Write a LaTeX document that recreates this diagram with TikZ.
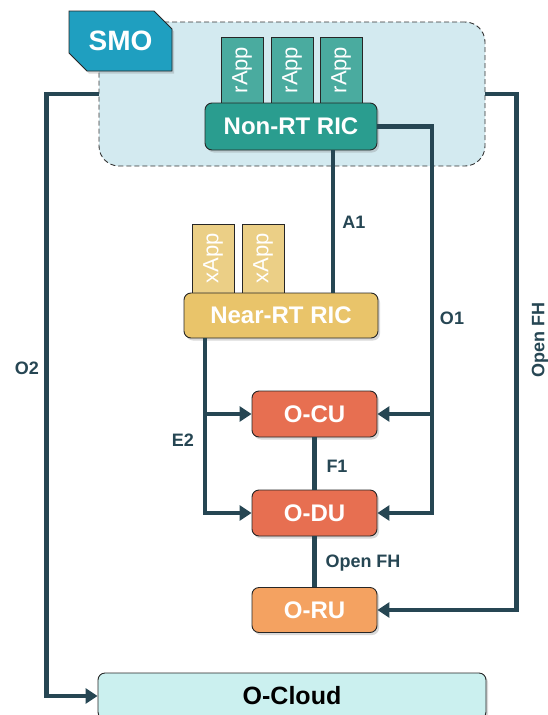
\documentclass[tikz,border=0pt]{standalone}
\usepackage{fontspec}
\setmainfont{Liberation Sans}
\usetikzlibrary{arrows.meta,shadows,shapes.misc}
\definecolor{linkcol}{HTML}{264653}
\definecolor{smofill}{HTML}{D3EAF0}
\definecolor{smotag}{HTML}{1F9FC0}
\definecolor{rappcol}{HTML}{4AAB9F}
\definecolor{nonrtcol}{HTML}{2A9D8F}
\definecolor{xappcol}{HTML}{EBCF86}
\definecolor{nearrtcol}{HTML}{E9C46A}
\definecolor{ducol}{HTML}{E76F51}
\definecolor{rucol}{HTML}{F4A261}
\definecolor{cloudcol}{HTML}{CBF0EF}

\begin{document}
\begin{tikzpicture}[x=1pt,y=-1pt,
    box/.style={draw=black!85,line width=0.9pt,rounded corners=7pt,inner sep=0pt,text=white,
        font=\bfseries\fontsize{24}{26}\selectfont,
        drop shadow={opacity=0.3,shadow xshift=2pt,shadow yshift=-2.5pt}},
    appbox/.style={draw=black!85,line width=0.8pt,inner sep=0pt,rotate=90,text=white,
        font=\fontsize{22}{24}\selectfont,minimum width=#1,minimum height=42pt},
    link/.style={draw=linkcol,line width=4.5pt},
    tip/.style={-{Triangle[length=12pt,width=15pt]}},
    lbl/.style={text=linkcol,font=\bfseries\fontsize{18}{20}\selectfont}]
    \useasboundingbox (0,0) rectangle (548,715);
    \node[draw=black!80,dash pattern=on 5pt off 3pt,line width=0.9pt,fill=smofill,rounded corners=20pt,
        minimum width=386pt,minimum height=144pt] (smoarea) at (292,94) {};
    \node[draw=black!85,line width=0.9pt,fill=smotag,chamfered rectangle,
        chamfered rectangle corners={north east,south west},chamfered rectangle xsep=9pt,
        chamfered rectangle ysep=9pt,inner sep=0pt,minimum width=103pt,minimum height=60pt,
        text=white,font=\bfseries\fontsize{28}{30}\selectfont,
        drop shadow={opacity=0.3,shadow xshift=2pt,shadow yshift=-2.5pt}] (smo) at (120.5,41) {SMO};
    \foreach \i/\x in {1/242,2/292,3/341}
        \node[appbox=66pt,fill=rappcol] (rapp\i) at (\x,70) {rApp};
    \node[box,fill=nonrtcol,minimum width=172pt,minimum height=47pt] (nonrt) at (291,126.5) {Non-RT RIC};
    \foreach \i/\x in {1/213,2/263}
        \node[appbox=69pt,fill=xappcol] (xapp\i) at (\x,258.5) {xApp};
    \node[box,fill=nearrtcol,minimum width=194pt,minimum height=45pt] (nearrt) at (281,315.5) {Near-RT RIC};
    \node[box,fill=ducol,minimum width=125pt,minimum height=46pt] (ocu) at (314.5,414) {O-CU};
    \node[box,fill=ducol,minimum width=125pt,minimum height=46pt] (odu) at (314.5,513) {O-DU};
    \node[box,fill=rucol,minimum width=125pt,minimum height=45pt] (oru) at (314.5,610) {O-RU};
    \node[box,fill=cloudcol,text=black,minimum width=388pt,minimum height=46pt,
        font=\bfseries\fontsize{25}{27}\selectfont] (ocloud) at (292,696) {O-Cloud};

    \coordinate (o1x) at (432,0);
    \coordinate (e2x) at (205,0);
    \draw[link,tip] (smoarea.west) -- ++(-52,0) |- (ocloud.west);
    \draw[link,tip] (smoarea.east) -- ++(31,0) |- (oru.east);
    \draw[link] (333,0 |- nonrt.south) -- (333,0 |- nearrt.north);
    \draw[link,tip] (nonrt.east) -| (o1x |- odu.east) -- (odu.east);
    \draw[link,tip] (o1x |- ocu.east) -- (ocu.east);
    \draw[link,tip] (e2x |- nearrt.south) |- (odu.west);
    \draw[link,tip] (e2x |- ocu.west) -- (ocu.west);
    \draw[link] (ocu.south) -- (odu.north);
    \draw[link] (odu.south) -- (oru.north);

    \node[lbl] (o2lbl) at (27,368) {O2};
    \node[lbl,rotate=90] (fhlbl) at (540,340) {Open FH};
    \node[lbl] (a1lbl) at (354,222) {A1};
    \node[lbl] (o1lbl) at (452,318) {O1};
    \node[lbl] (e2lbl) at (183,440) {E2};
    \node[lbl] (f1lbl) at (337,466) {F1};
    \node[lbl] (fh2lbl) at (363,563) {Open FH};
\end{tikzpicture}
\end{document}
